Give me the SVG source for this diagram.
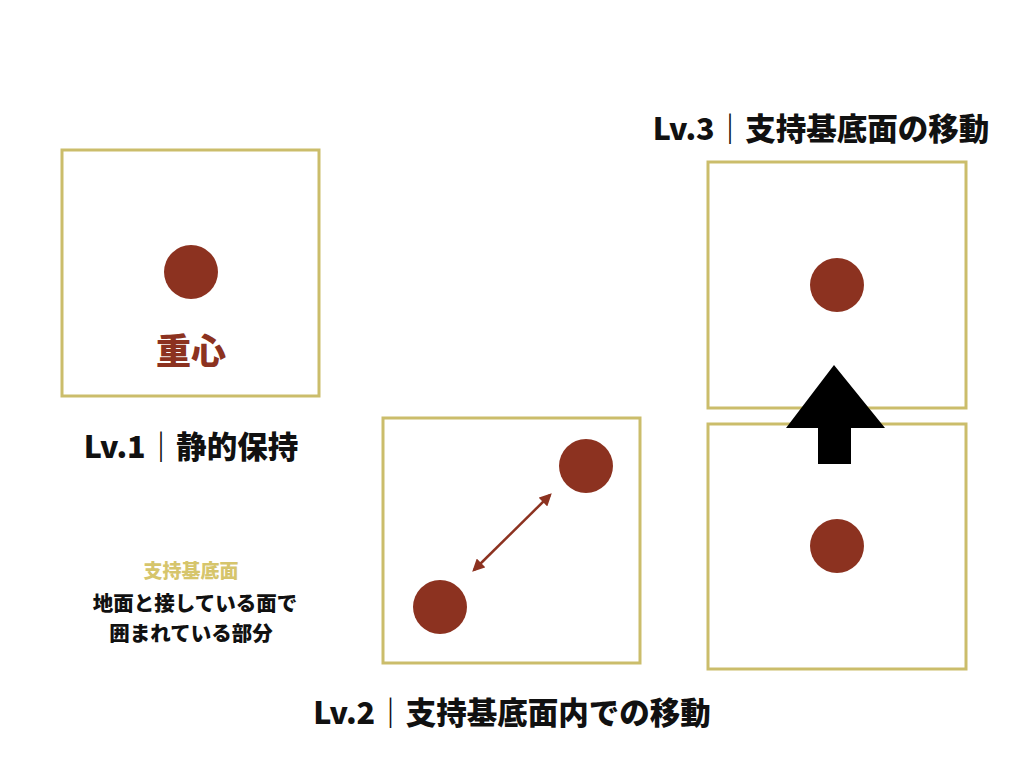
<svg xmlns="http://www.w3.org/2000/svg" width="1024" height="768" viewBox="0 0 1024 768">
<style>
.box{fill:none;stroke:#cbbd6b;stroke-width:3}
.dot{fill:#8c3220}
text{font-family:"Noto Sans CJK JP","Liberation Sans",sans-serif;font-weight:900;text-anchor:middle}
.t{font-size:30.5px;fill:#111}
</style>
<defs>
<marker id="ah" viewBox="0 0 10 10" refX="8" refY="5" markerWidth="5" markerHeight="5" orient="auto-start-reverse"><path d="M0,0L10,5L0,10z" fill="#8c3220"/></marker>
</defs>
<rect width="1024" height="768" fill="#fff"/>
<g id="lv1"><rect class="box" x="62" y="150" width="257" height="246"/><circle class="dot" cx="191" cy="272" r="27"/><text x="191" y="364" font-size="35" fill="#8c3220">重心</text></g>
<g id="lv2"><rect class="box" x="383" y="418" width="257" height="245"/><circle class="dot" cx="586" cy="466" r="27"/><circle class="dot" cx="440" cy="607" r="27"/></g>
<g id="lv3a"><rect class="box" x="708" y="162" width="258" height="246"/><circle class="dot" cx="837" cy="285" r="27"/></g>
<g id="lv3b"><rect class="box" x="708" y="424" width="258" height="245"/><circle class="dot" cx="837" cy="546" r="27"/></g>
<g id="connectors">
<line x1="474" y1="570" x2="550" y2="495" stroke="#8c3220" stroke-width="2.5" marker-start="url(#ah)" marker-end="url(#ah)"/>
<path d="M834,365L885,428L851,428L851,464L818,464L818,428L786,428z" fill="#000"/>
</g>
<text class="t" x="191" y="458">Lv.1｜静的保持</text>
<text class="t" x="512" y="724">Lv.2｜支持基底面内での移動</text>
<text class="t" x="821" y="140">Lv.3｜支持基底面の移動</text>
<text x="191" y="578" font-size="19" fill="#d6c56c">支持基底面</text>
<text x="195" y="611" font-size="20.5" fill="#111">地面と接している面で</text>
<text x="191" y="641" font-size="20.5" fill="#111">囲まれている部分</text>
</svg>
